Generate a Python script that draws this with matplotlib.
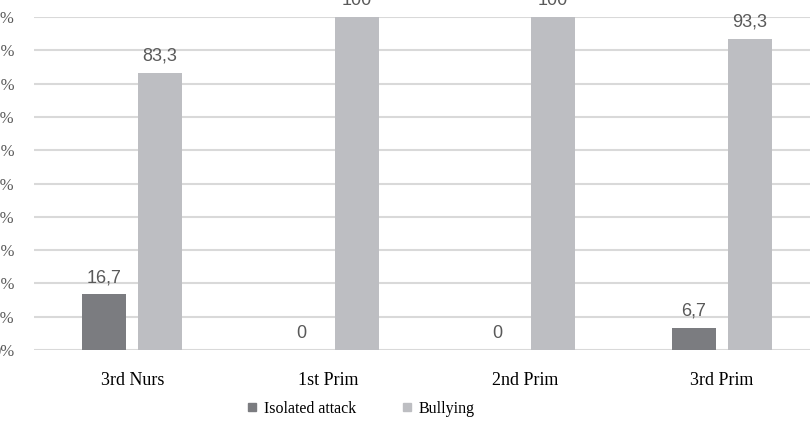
import numpy as np
import matplotlib.pyplot as plt
from matplotlib.lines import Line2D

categories = ['3rd Nurs', '1st Prim', '2nd Prim', '3rd Prim']
isolated = [16.7, 0, 0, 6.7]
bullying = [83.3, 100, 100, 93.3]
labels_iso = ['16,7', '0', '0', '6,7']
labels_bul = ['83,3', '100', '100', '93,3']
yticks = np.arange(0, 101, 10)

dark = '#7b7c80'
light = '#bdbec2'

fig = plt.figure(figsize=(8.1, 4.21), dpi=100)
# plot area runs a little past the right edge, as in the cropped original
ax = fig.add_axes([34 / 810, 1 - 350 / 421, 786 / 810, (350 - 17) / 421])

x = np.arange(len(categories))
w = 0.224
off = 0.142
b1 = ax.bar(x - off, isolated, w, color=dark, zorder=3)
b2 = ax.bar(x + off, bullying, w, color=light, zorder=3)

for bars, labs in [(b1, labels_iso), (b2, labels_bul)]:
    for rect, lab in zip(bars, labs):
        ax.annotate(lab, (rect.get_x() + rect.get_width() / 2, rect.get_height()),
                    xytext=(0, 6), textcoords='offset points', ha='center', va='bottom',
                    fontsize=13, color='#595959', family='Liberation Sans',
                    annotation_clip=False)

ax.set_xlim(-0.5, len(categories) - 0.5)
ax.set_ylim(0, 100)
ax.set_yticks(yticks)
ax.set_yticklabels([f'{v}%' for v in yticks], family='Liberation Serif', fontsize=12, color='#595959')
ax.set_xticks(x)
ax.set_xticklabels(categories, family='Liberation Serif', fontsize=13)
ax.tick_params(axis='x', length=0, pad=16)
ax.tick_params(axis='y', length=0, pad=14)
ax.yaxis.grid(True, color='#d9d9d9', linewidth=1.5, zorder=0)
for s in ax.spines.values():
    s.set_visible(False)

handles = [Line2D([], [], marker='s', linestyle='none', color=dark, markersize=6),
           Line2D([], [], marker='s', linestyle='none', color=light, markersize=6)]
fig.legend(handles, ['Isolated attack', 'Bullying'], loc='center', ncol=2,
           bbox_to_anchor=(0.446, 12 / 421), frameon=False, handlelength=0.6,
           handletextpad=0.45, columnspacing=2.85,
           prop={'family': 'Liberation Serif', 'size': 11.5})

fig.savefig('out.png', dpi=100)
